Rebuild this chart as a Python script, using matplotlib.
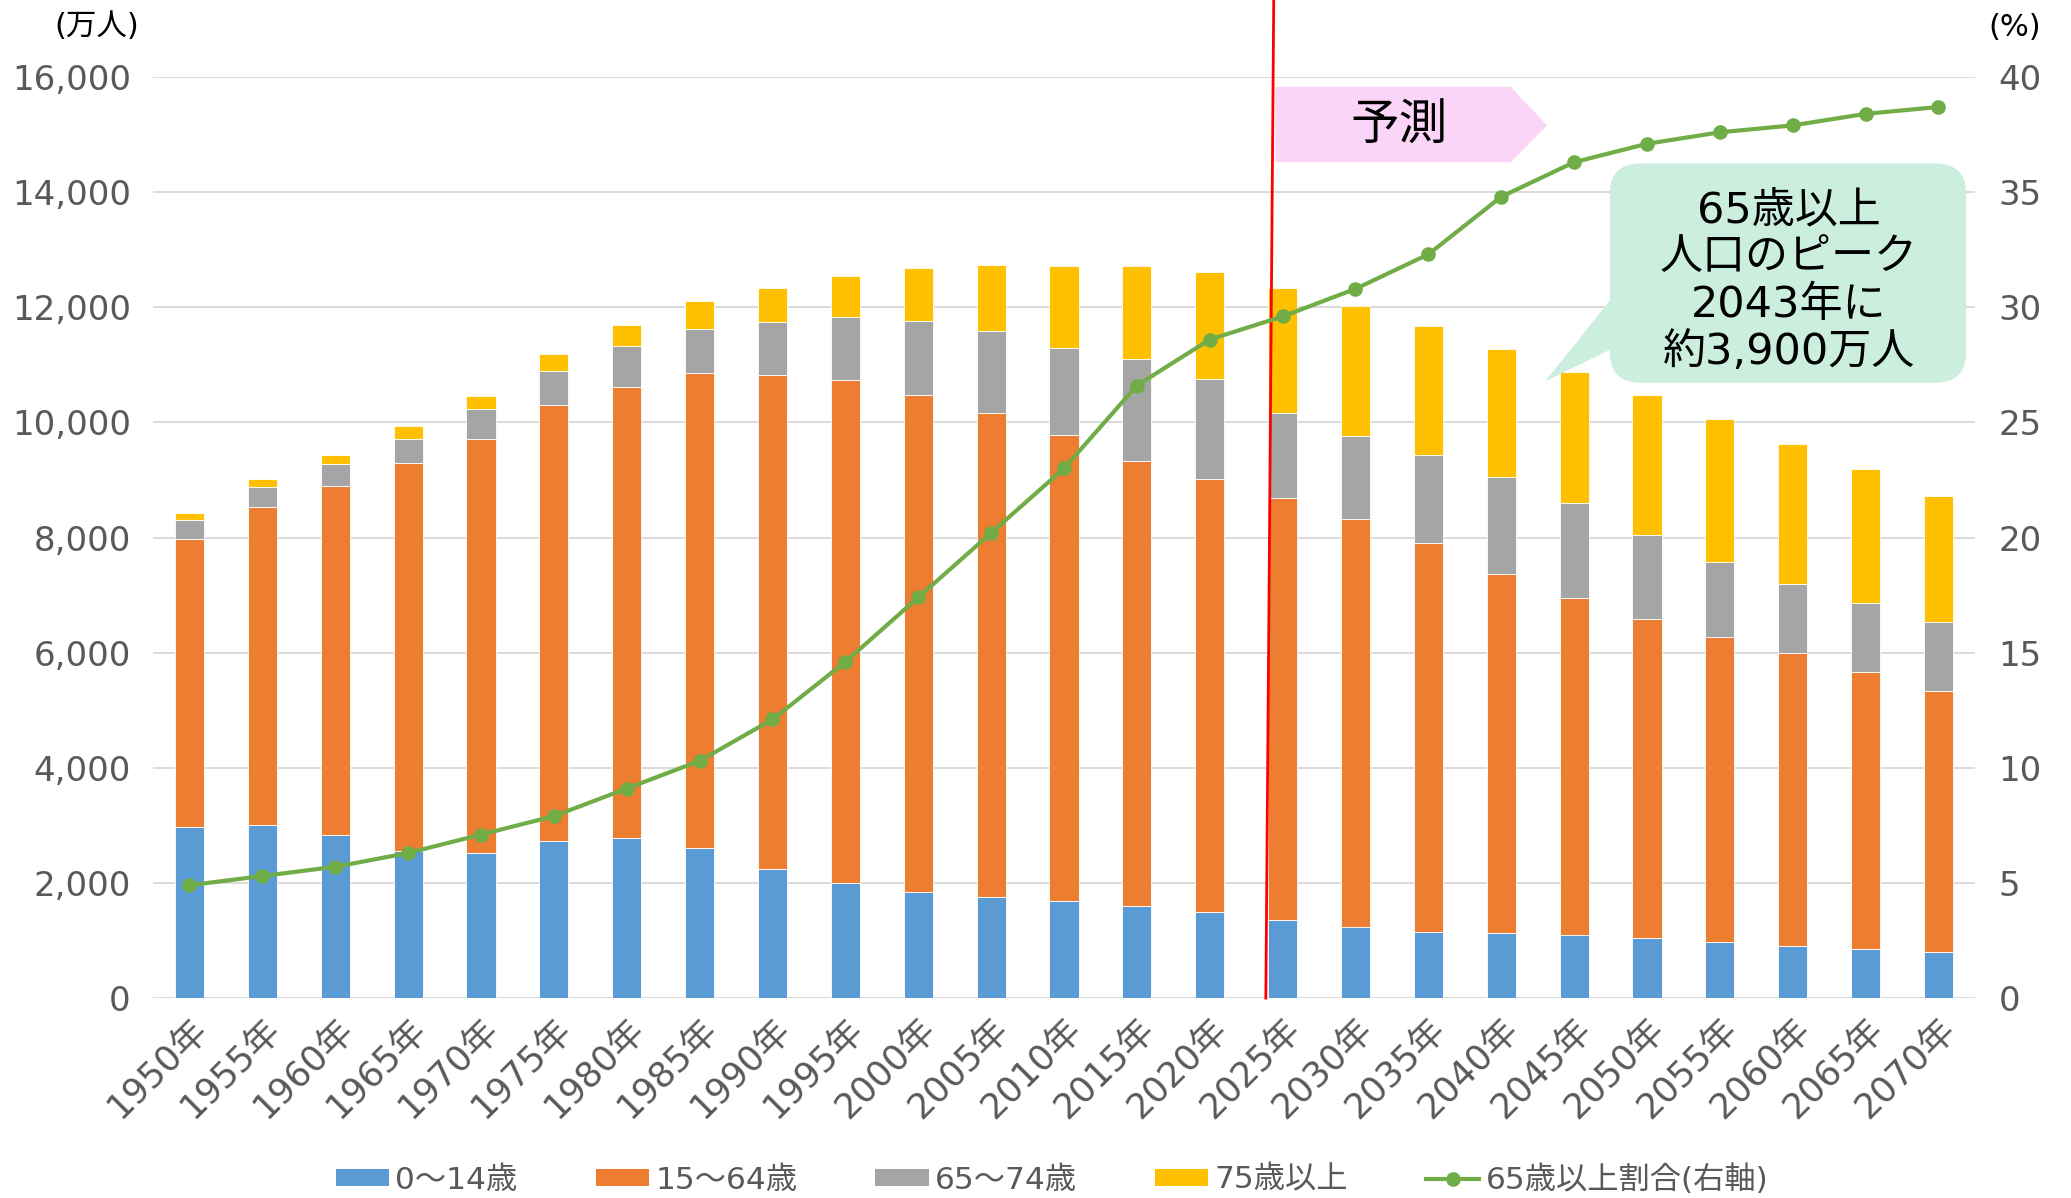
import matplotlib
matplotlib.use('Agg')
import matplotlib.pyplot as plt
import numpy as np
from matplotlib.patches import Polygon, FancyBboxPatch, Patch
from matplotlib.lines import Line2D

plt.rcParams['font.family'] = ['DejaVu Sans', 'Noto Sans CJK JP']

years = list(range(1950, 2071, 5))
year_labels = [f"{y}年" for y in years]

age_0_14 = [2980, 3000, 2840, 2550, 2520, 2730, 2775, 2600, 2250, 2000, 1850, 1760, 1680,
            1600, 1500, 1360, 1240, 1140, 1130, 1100, 1040, 980, 900, 850, 800]
age_15_64 = [5000, 5530, 6060, 6740, 7200, 7570, 7845, 8250, 8580, 8730, 8630, 8400, 8110,
             7730, 7510, 7330, 7090, 6770, 6230, 5850, 5540, 5300, 5090, 4820, 4540]
age_65_74 = [320, 350, 370, 430, 510, 600, 710, 780, 910, 1100, 1290, 1420, 1510,
             1770, 1750, 1470, 1440, 1520, 1700, 1650, 1470, 1290, 1210, 1190, 1200]
age_75_over = [120, 130, 160, 210, 230, 290, 370, 480, 600, 710, 910, 1150, 1410,
               1610, 1850, 2180, 2250, 2240, 2220, 2270, 2430, 2490, 2430, 2330, 2180]
ratio_65_over = [4.9, 5.3, 5.7, 6.3, 7.1, 7.9, 9.1, 10.3, 12.1, 14.6, 17.4, 20.2, 23.0,
                 26.6, 28.6, 29.6, 30.8, 32.3, 34.8, 36.3, 37.1, 37.6, 37.9, 38.4, 38.7]

series_names = ['0～14歳', '15～64歳', '65～74歳', '75歳以上']
line_name = '65歳以上割合(右軸)'
colors = ['#5B9BD5', '#ED7D31', '#A5A5A5', '#FFC000']
line_color = '#70AD47'
tick_color = '#595959'
grid_color = '#D9D9D9'

fig = plt.figure(figsize=(20.71, 11.98), dpi=100)
ax = fig.add_axes([0.0739, 0.1669, 0.8797, 0.7688])
ax2 = ax.twinx()

x = np.arange(len(years))
bottom = np.zeros(len(years))
for vals, c in zip([age_0_14, age_15_64, age_65_74, age_75_over], colors):
    ax.bar(x, vals, width=0.40, bottom=bottom, color=c, edgecolor='white', linewidth=0.6, zorder=3)
    bottom += np.array(vals)

ax.set_xlim(-0.5, len(years) - 0.5)
ax.set_ylim(0, 16000)
ax.set_yticks(range(0, 16001, 2000))
ax.set_yticklabels([f"{v:,}" for v in range(0, 16001, 2000)])
ax.yaxis.grid(True, color=grid_color, linewidth=1.4, zorder=0)
ax.set_axisbelow(True)
for sp in ax.spines.values():
    sp.set_visible(False)
for sp in ax2.spines.values():
    sp.set_visible(False)
ax.tick_params(axis='y', length=0, pad=16, labelsize=24.5, labelcolor=tick_color)
ax.set_xticks(x)
ax.set_xticklabels(year_labels, rotation=45, ha='right', va='top', rotation_mode='anchor')
ax.tick_params(axis='x', length=0, pad=10, labelsize=25.5, labelcolor=tick_color)

ax2.set_ylim(0, 40)
ax2.set_yticks(range(0, 41, 5))
ax2.tick_params(axis='y', length=0, pad=17, labelsize=24.5, labelcolor=tick_color)
ax2.plot(x, ratio_65_over, color=line_color, linewidth=3.0, marker='o', markersize=9.5, zorder=5)

# red divider
ax.plot([14.77, 14.88], [0, 17600], color='#FF0000', linewidth=2.0, clip_on=False, zorder=6)

# prediction arrow
arrow = Polygon([(14.9, 15830), (18.13, 15830), (18.63, 15160), (18.13, 14520), (14.9, 14520)],
                closed=True, facecolor='#FBD5F7', edgecolor='none', zorder=4, clip_on=False)
ax.add_patch(arrow)
ax.text(16.6, 15160, '予測', fontsize=35, ha='center', va='center', color='black', zorder=7)

# callout
mint = '#CBEEDF'
box = FancyBboxPatch((19.49, 10690), 4.89, 3810,
                     boxstyle='round,pad=0,rounding_size=0.42', mutation_aspect=1265,
                     facecolor=mint, edgecolor='none', zorder=7, clip_on=False)
ax.add_patch(box)
tail = Polygon([(19.6, 12290), (18.6, 10710), (19.6, 11330)], closed=True,
               facecolor=mint, edgecolor='none', zorder=7, clip_on=False)
ax.add_patch(tail)
ax.text(21.95, 12455, '65歳以上\n人口のピーク\n2043年に\n約3,900万人', fontsize=31,
        ha='center', va='center', linespacing=1.15, color='black', zorder=8)

fig.text(0.0466, 0.978, '(万人)', fontsize=22, ha='center', va='center', color='black')
fig.text(0.973, 0.977, '(%)', fontsize=22, ha='center', va='center', color='black')

handles = [Patch(facecolor=c, edgecolor='none') for c in colors]
handles.append(Line2D([0], [0], color=line_color, linewidth=3.0, marker='o', markersize=9.5))
fig.legend(handles, series_names + [line_name], loc='center', bbox_to_anchor=(0.508, 0.0154),
           ncol=5, frameon=False, fontsize=22.5, handlelength=1.7, handleheight=0.48,
           handletextpad=0.2, columnspacing=2.5, labelcolor=tick_color)

fig.savefig('out.png', dpi=100)
